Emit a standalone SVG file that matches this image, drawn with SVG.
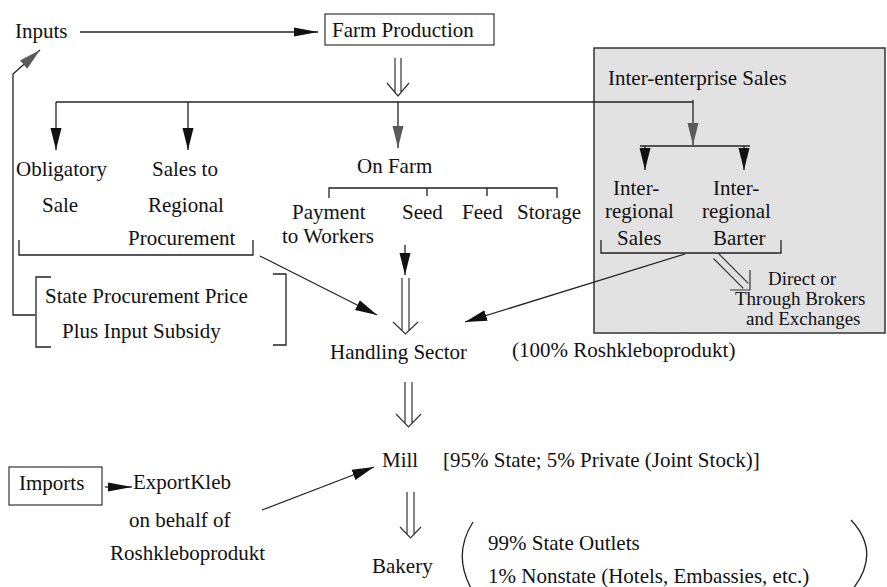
<svg xmlns="http://www.w3.org/2000/svg" width="887" height="587" viewBox="0 0 887 587">
<style>
text{font-size:21px;fill:#111;}
.sm{font-size:19px;}
.ln{fill:none;stroke:#222;stroke-width:1.3;}
.dbl{fill:none;stroke:#333;stroke-width:1.2;}
.box{fill:#fff;stroke:#333;stroke-width:1.2;}
.shade{fill:#e2e2e2;stroke:#333;stroke-width:1.5;}
</style>
<defs>
<marker id="ah" viewBox="0 0 22 12" refX="22" refY="6" markerWidth="22" markerHeight="12" markerUnits="userSpaceOnUse" orient="auto"><path d="M0,0.5 L22,6 L0,11.5 Z" fill="#111"/></marker>
<marker id="ahg" viewBox="0 0 22 12" refX="22" refY="6" markerWidth="22" markerHeight="12" markerUnits="userSpaceOnUse" orient="auto"><path d="M0,0.5 L22,6 L0,11.5 Z" fill="#5a5a5a"/></marker>
<marker id="ahs" viewBox="0 0 24 10" refX="24" refY="5" markerWidth="24" markerHeight="10" markerUnits="userSpaceOnUse" orient="auto"><path d="M0,0.5 L24,5 L0,9.5 Z" fill="#111"/></marker>
</defs>
<rect width="887" height="587" fill="#fff"/>

<g id="interenterprise-panel">
<rect class="shade" x="594" y="48" width="291" height="285"/>
<text x="608" y="85" style="font-family:'Liberation Serif'">Inter-enterprise Sales</text>
</g>

<g id="connectors">
<line class="ln" x1="80" y1="32" x2="318" y2="32" marker-end="url(#ahs)"/>
<path class="ln" d="M35,315 H13 V74 L40,50" marker-end="url(#ahg)"/>
<path class="ln" d="M56,102 H693"/>
<line class="ln" x1="56" y1="102" x2="56" y2="150" marker-end="url(#ah)"/>
<line class="ln" x1="188" y1="102" x2="188" y2="150" marker-end="url(#ah)"/>
<line class="ln" x1="398" y1="102" x2="398" y2="148" marker-end="url(#ahg)"/>
<line class="ln" x1="693" y1="100" x2="693" y2="145" marker-end="url(#ahg)"/>
<path class="ln" d="M640,146 H750"/>
<line class="ln" x1="645" y1="146" x2="645" y2="170" marker-end="url(#ah)"/>
<line class="ln" x1="744" y1="146" x2="744" y2="170" marker-end="url(#ah)"/>
<line class="ln" x1="405" y1="245" x2="405" y2="275" marker-end="url(#ah)"/>
<line class="ln" x1="260" y1="256" x2="377" y2="315" marker-end="url(#ah)"/>
<line class="ln" x1="685" y1="254" x2="465" y2="322" marker-end="url(#ah)"/>
<line class="ln" x1="105" y1="487" x2="132" y2="487" marker-end="url(#ahs)"/>
<line class="ln" x1="262" y1="510" x2="374" y2="467" marker-end="url(#ah)"/>
<path class="dbl" d="M395,58 V92 M401,58 V92 M387,83 L398,96 L409,83"/>
<path class="dbl" d="M402,278 V330 M409,278 V330 M393,322 L405.5,334 L418,322"/>
<path class="dbl" d="M405,382 V424 M412,382 V424 M396,414 L408.5,427 L421,414"/>
<path class="dbl" d="M407,492 V535 M414,492 V535 M400,527 L410.5,538 L421,527"/>
<path class="dbl" d="M718.5,253.5 L748.3,283.3 M713.5,258.5 L743.3,288.3 M750,270 L750,290 L730,290"/>
</g>

<g id="inputs"><text x="15" y="38" style="font-family:'Liberation Serif'">Inputs</text></g>
<g id="farm-production">
<rect class="box" x="325" y="14" width="169" height="31"/>
<text x="332" y="37" style="font-family:'Liberation Serif'">Farm Production</text>
</g>
<g id="obligatory-sale">
<text x="16" y="176" style="font-family:'Liberation Serif'">Obligatory</text>
<text x="42" y="212" style="font-family:'Liberation Serif'">Sale</text>
</g>
<g id="sales-regional">
<text x="152" y="176" style="font-family:'Liberation Serif'">Sales to</text>
<text x="148" y="212" style="font-family:'Liberation Serif'">Regional</text>
<text x="128" y="245" style="font-family:'Liberation Serif'">Procurement</text>
<path class="ln" d="M19,240 V255 H253 V240"/>
</g>
<g id="on-farm">
<text x="357" y="173" style="font-family:'Liberation Serif'">On Farm</text>
<path class="ln" d="M329,198 V188 H557 V198 M427,188 V196 M487,188 V196"/>
<text x="292" y="219" style="font-family:'Liberation Serif'">Payment</text>
<text x="282" y="243" style="font-family:'Liberation Serif'">to Workers</text>
<text x="402" y="219" style="font-family:'Liberation Serif'">Seed</text>
<text x="462" y="219" style="font-family:'Liberation Serif'">Feed</text>
<text x="517" y="219" style="font-family:'Liberation Serif'">Storage</text>
</g>
<g id="interregional">
<text x="613" y="195" style="font-family:'Liberation Serif'">Inter-</text>
<text x="605" y="218" style="font-family:'Liberation Serif'">regional</text>
<text x="617" y="245" style="font-family:'Liberation Serif'">Sales</text>
<text x="713" y="195" style="font-family:'Liberation Serif'">Inter-</text>
<text x="702" y="218" style="font-family:'Liberation Serif'">regional</text>
<text x="713" y="245" style="font-family:'Liberation Serif'">Barter</text>
<path class="ln" d="M601,240 V253 H781 V240"/>
</g>
<g id="direct-brokers">
<text class="sm" x="768" y="285" style="font-family:'Liberation Serif'">Direct or</text>
<text class="sm" x="735" y="305" style="font-family:'Liberation Serif'">Through Brokers</text>
<text class="sm" x="746" y="325" style="font-family:'Liberation Serif'">and Exchanges</text>
</g>
<g id="state-price">
<path class="ln" d="M51,277 H36 V347 H51 M273,274 H286 V345 H273"/>
<text x="45" y="303" style="font-family:'Liberation Serif'">State Procurement Price</text>
<text x="62" y="338" style="font-family:'Liberation Serif'">Plus Input Subsidy</text>
</g>
<g id="handling-sector">
<text x="330" y="359" style="font-family:'Liberation Serif'">Handling Sector</text>
<text x="512" y="357" style="font-family:'Liberation Serif'">(100% Roshkleboprodukt)</text>
</g>
<g id="imports">
<rect class="box" x="9" y="467" width="93" height="38"/>
<text x="19" y="490" style="font-family:'Liberation Serif'">Imports</text>
</g>
<g id="exportkleb">
<text x="133" y="489" style="font-family:'Liberation Serif'">ExportKleb</text>
<text x="129" y="527" style="font-family:'Liberation Serif'">on behalf of</text>
<text x="110" y="560" style="font-family:'Liberation Serif'">Roshkleboprodukt</text>
</g>
<g id="mill">
<text x="382" y="467" style="font-family:'Liberation Serif'">Mill</text>
<text x="443" y="467" style="font-family:'Liberation Serif'">[95% State; 5% Private (Joint Stock)]</text>
</g>
<g id="bakery">
<text x="372" y="573" style="font-family:'Liberation Serif'">Bakery</text>
<path class="ln" d="M473,522 Q452,555 472,590 M851,520 Q882,553 852,590"/>
<text x="488" y="550" style="font-family:'Liberation Serif'">99% State Outlets</text>
<text x="488" y="583" style="font-family:'Liberation Serif'">1% Nonstate (Hotels, Embassies, etc.)</text>
</g>
</svg>
